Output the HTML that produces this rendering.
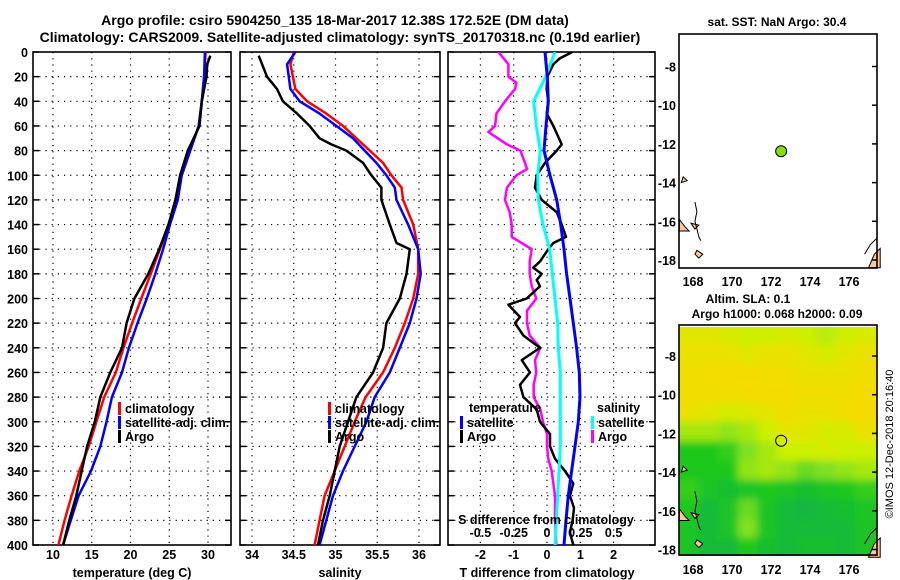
<!DOCTYPE html>
<html><head><meta charset="utf-8"><style>
html,body{margin:0;padding:0;background:#fff;}
svg{display:block;font-family:"Liberation Sans",sans-serif;font-weight:bold;}
</style></head><body>
<svg id="chart" width="900" height="580" viewBox="0 0 900 580" xmlns="http://www.w3.org/2000/svg">
<defs>
<clipPath id="c1"><rect x="33" y="52" width="198" height="493"/></clipPath>
<clipPath id="c2"><rect x="240" y="52" width="200" height="493"/></clipPath>
<clipPath id="c3"><rect x="448" y="52" width="207" height="493"/></clipPath>
<clipPath id="cm2"><rect x="679" y="327" width="198" height="229"/></clipPath>
<filter id="blur"><feGaussianBlur stdDeviation="4"/></filter>
</defs>
<text x="335" y="25" font-size="14" text-anchor="middle">Argo profile: csiro 5904250_135 18-Mar-2017 12.38S 172.52E (DM data)</text>
<text x="340" y="42" font-size="14" text-anchor="middle">Climatology: CARS2009. Satellite-adjusted climatology: synTS_20170318.nc (0.19d earlier)</text>
<g id="layer"></g>
<text x="777" y="26" font-size="12" text-anchor="middle">sat. SST: NaN Argo: 30.4</text>
<text x="748" y="303" font-size="12" text-anchor="middle">Altim. SLA: 0.1</text>
<text x="777" y="318" font-size="12" text-anchor="middle">Argo h1000: 0.068 h2000: 0.09</text>
<text transform="translate(893,444) rotate(-90)" font-size="11" font-weight="normal" text-anchor="middle">©IMOS 12-Dec-2018 20:16:40</text>
</svg>
<script>
// ---- data ----
const depths = [0,20,40,60,80,100,120,140,160,180,200,220,240,260,280,300,320,340,360,380,400];
const tempClim = [29.7,29.5,29.2,28.8,27.7,26.6,26.0,25.0,23.8,22.6,21.4,20.2,19.1,18.1,16.6,15.6,14.6,13.4,12.4,11.5,10.7];
const tempSat  = [29.6,29.5,29.2,28.8,27.7,26.6,26.1,25.1,24.2,23.2,22.1,20.9,19.8,18.9,17.6,16.9,16.1,14.9,13.3,12.3,11.3];
const argoTDepths = [3,10,20,40,60,80,100,120,140,160,180,200,220,240,260,280,300,320,340,360,380,400];
const argoTemp = [30.3,29.9,29.8,29.2,28.9,27.4,26.4,25.8,24.9,23.7,22.3,20.5,19.5,18.9,17.4,16.1,15.4,14.4,13.7,13.0,12.1,11.3];
const salDepths = [0,10,30,40,50,60,70,80,90,100,110,120,140,160,180,200,220,240,260,280,300,320,340,360,380,400];
const salClim = [34.50,34.46,34.52,34.66,34.89,35.09,35.25,35.41,35.57,35.67,35.79,35.81,35.93,35.99,35.99,35.93,35.83,35.71,35.57,35.36,35.23,35.11,34.99,34.87,34.81,34.75];
const salSat  = [34.52,34.42,34.46,34.57,34.81,35.01,35.21,35.35,35.49,35.61,35.71,35.73,35.87,35.99,36.02,35.97,35.89,35.77,35.65,35.47,35.37,35.23,35.09,34.97,34.89,34.81];
const argoSDepths = [3,20,30,40,50,60,70,75,80,90,100,110,120,140,155,160,180,200,220,240,260,280,300,320,340,360,380,400];
const argoSal = [34.08,34.18,34.30,34.37,34.54,34.69,34.81,34.95,35.13,35.33,35.43,35.55,35.55,35.65,35.73,35.89,35.85,35.77,35.61,35.57,35.45,35.25,35.15,35.05,34.99,34.93,34.85,34.79];
const diffTSat = [-0.06,0.01,0.04,-0.03,-0.09,0.09,0.29,0.41,0.51,0.59,0.69,0.79,0.89,0.97,0.99,0.94,0.84,0.74,0.64,0.57,0.51];
const diffSSat = [0.06,-0.01,-0.10,-0.08,-0.05,-0.07,-0.065,-0.03,0.02,0.04,0.06,0.08,0.085,0.10,0.10,0.10,0.10,0.09,0.08,0.07,0.06];
const argoDTDepths = [0,5,10,20,30,40,50,60,75,80,90,100,110,120,130,140,150,155,160,170,175,180,185,190,200,205,215,220,230,240,250,260,270,280,290,300,310,320,330,340,350,360,370,380,390,400];
const argoDT = [0.76,0.39,0.19,0.01,-0.01,0.04,-0.01,0.19,0.44,0.29,-0.06,-0.31,-0.36,-0.16,0.29,0.44,0.57,0.19,0.04,-0.21,-0.41,-0.16,-0.31,-0.21,-0.61,-1.16,-0.81,-0.96,-0.71,-0.21,-0.76,-0.51,-0.81,-0.71,-0.31,-0.21,0.09,0.09,0.24,0.54,0.79,0.69,0.81,0.77,0.69,0.79];
const argoDSDepths = [0,10,20,25,30,40,50,60,65,75,80,90,95,100,110,120,130,140,150,160,170,180,190,200,210,220,230,240,250,260,270,280,290,300,310,320,330,340,360,380,400];
const argoDS = [-0.365,-0.29,-0.29,-0.23,-0.24,-0.315,-0.38,-0.39,-0.44,-0.30,-0.20,-0.165,-0.15,-0.23,-0.30,-0.315,-0.28,-0.265,-0.265,-0.115,-0.13,-0.13,-0.115,-0.08,-0.15,-0.15,-0.13,-0.05,-0.09,-0.08,-0.10,-0.10,-0.05,-0.03,0.0,0.0,0.01,0.035,0.06,0.06,0.07];
const depthTicks = [0,20,40,60,80,100,120,140,160,180,200,220,240,260,280,300,320,340,360,380,400];
const tempTicks = [10,15,20,25,30];
const salTicks = [34,34.5,35,35.5,36];
const salTickLabels = ['34','34.5','35','35.5','36'];
const dTTicks = [-2,-1,0,1,2];
const dTTickLabels = ['-2','-1','0','1','2'];
const dSTicks = [-0.5,-0.25,0,0.25,0.5];
const dSTickLabels = ['-0.5','-0.25','0','0.25','0.5'];
const lonTicks = [168,170,172,174,176];
const latTicks = [-8,-10,-12,-14,-16,-18];
const argoLon = 172.52, argoLat = -12.38;
const slaLons = [167.8,168.8,169.8,170.8,171.8,172.8,173.8,174.8,175.8,176.8];
const slaLats = [-6.9,-7.9,-8.9,-9.9,-10.9,-11.9,-12.9,-13.9,-14.9,-15.9,-16.9,-17.9];
const slaGrid = [
[0.8,0.8,0.75,0.7,0.7,0.75,0.7,0.65,0.7,0.75],
[0.85,0.85,0.85,0.8,0.85,0.85,0.8,0.75,0.8,0.85],
[0.88,0.88,0.9,0.9,0.88,0.88,0.85,0.85,0.85,0.88],
[0.88,0.88,0.88,0.9,0.9,0.9,0.88,0.88,0.88,0.9],
[0.85,0.8,0.75,0.78,0.82,0.88,0.85,0.85,0.88,0.92],
[0.6,0.6,0.55,0.6,0.7,0.8,0.8,0.75,0.75,0.85],
[0.3,0.3,0.35,0.5,0.6,0.7,0.7,0.75,0.7,0.7],
[0.3,0.3,0.3,0.55,0.6,0.55,0.45,0.5,0.55,0.6],
[0.35,0.25,0.2,0.25,0.3,0.25,0.2,0.25,0.3,0.35],
[0.3,0.15,0.25,0.45,0.25,0.15,0.1,0.15,0.2,0.25],
[0.25,0.15,0.25,0.5,0.25,0.15,0.15,0.15,0.15,0.25],
[0.25,0.15,0.15,0.3,0.2,0.15,0.2,0.2,0.15,0.25]];

// ---- scales ----
const yD = d => 52 + d*1.2325;
const xT = t => 53 + (t-10)*7.75;
const xS = s => 252 + (s-34)*83.5;
const xDT = t => 547 + t*33.3;
const xDS = s => 547 + s*133.2;
const mx = lon => 693 + (lon-168)*19.5;
const my1 = lat => 66.5 + (-8-lat)*19.35;
const my2 = lat => 356 + (-8-lat)*19.35;

const NS='http://www.w3.org/2000/svg';
const layer=document.getElementById('layer');
function mk(tag,attrs,parent){const e=document.createElementNS(NS,tag);for(const k in attrs)e.setAttribute(k,attrs[k]);(parent||layer).appendChild(e);return e;}
function txt(x,y,s,size,anchor){const e=mk('text',{x:x,y:y,'font-size':size,'text-anchor':anchor});e.textContent=s;return e;}

function panel(x0,x1,vticks,xf,name){
  const g=mk('g',{});
  
  
  depthTicks.forEach(d=>{
    const y=yD(d);
    if(d>0&&d<400){const l=mk('line',{x1:x0,x2:x1,y1:y,y2:y,stroke:'#000','stroke-width':1.2,'stroke-dasharray':'1.2 5'},g);
      
      }
    mk('line',{x1:x0,x2:x0+6,y1:y,y2:y,stroke:'#000','stroke-width':1.5},g);
    mk('line',{x1:x1-6,x2:x1,y1:y,y2:y,stroke:'#000','stroke-width':1.5},g);
  });
  vticks.forEach(v=>{const x=xf(v);
    const l=mk('line',{x1:x,x2:x,y1:52,y2:545,stroke:'#000','stroke-width':1.2,'stroke-dasharray':'1.2 5'},g);
    
    
  });
  mk('rect',{x:x0,y:52,width:x1-x0,height:493,fill:'none',stroke:'#000','stroke-width':1.6},g);
  return g;
}
function line(xs,ds,xf,color,clip,name,w){
  const pts=xs.map((v,i)=>xf(v).toFixed(1)+','+yD(ds[i]).toFixed(1)).join(' ');
  const p=mk('polyline',{points:pts,fill:'none',stroke:color,'stroke-width':w||2.5,'clip-path':'url(#'+clip+')','stroke-linejoin':'round'});
  
  
}
function legend(x,y,color,label,name){
  const g=mk('g',{});
  
  
  mk('rect',{x:x,y:y-11,width:3,height:13,fill:color},g);
  const t=mk('text',{x:x+7,y:y,'font-size':12.5},g);t.textContent=label;
}

// Panel 1: temperature
panel(33,231,tempTicks,xT,'temperature-panel');
depthTicks.forEach(d=>{const t=txt(28,yD(d)+5,String(d),12.5,'end');});
tempTicks.forEach(v=>{const t=txt(xT(v),559,String(v),12.5,'middle');});
line(tempClim,depths,xT,'#ff0000','c1','temp-climatology-line');
line(tempSat,depths,xT,'#0000ff','c1','temp-satellite-line');
line(argoTemp,argoTDepths,xT,'#000','c1','temp-argo-line');
txt(132,577,'temperature (deg C)',12.5,'middle');
legend(118,413,'#ff0000','climatology','legend-climatology');
legend(118,427,'#0000ff','satellite-adj. clim.','legend-satellite');
legend(118,441,'#000','Argo','legend-argo');

// Panel 2: salinity
panel(240,440,salTicks,xS,'salinity-panel');
salTicks.forEach((v,i)=>{const t=txt(xS(v),559,salTickLabels[i],12.5,'middle');});
line(salClim,salDepths,xS,'#ff0000','c2','sal-climatology-line');
line(salSat,salDepths,xS,'#0000ff','c2','sal-satellite-line');
line(argoSal,argoSDepths,xS,'#000','c2','sal-argo-line');
txt(340,577,'salinity',12.5,'middle');
legend(328,413,'#ff0000','climatology','legend-climatology-2');
legend(328,427,'#0000ff','satellite-adj. clim.','legend-satellite-2');
legend(328,441,'#000','Argo','legend-argo-2');

// Panel 3: differences
panel(448,655,dTTicks,xDT,'difference-panel');
dTTicks.forEach((v,i)=>{const t=txt(xDT(v),559,dTTickLabels[i],12.5,'middle');});
line(argoDS,argoDSDepths,xDS,'#ff00ff','c3','sal-diff-argo-line');
line(argoDT,argoDTDepths,xDT,'#000','c3','temp-diff-argo-line');
line(diffSSat,depths,xDS,'#00ffff','c3','sal-diff-satellite-line',3);
line(diffTSat,depths,xDT,'#0000ff','c3','temp-diff-satellite-line',3);
dSTicks.forEach((v,i)=>{const t=txt(xDS(v),537,dSTickLabels[i],12.5,'middle');});
txt(546,524,'S difference from climatology',12.5,'middle');
txt(547,577,'T difference from climatology',12.5,'middle');
txt(469,412,'temperature',12.5,'start');
legend(460,427,'#0000ff','satellite','legend-t-satellite');
legend(460,441,'#000','Argo','legend-t-argo');
txt(597,412,'salinity',12.5,'start');
legend(591,427,'#00ffff','satellite','legend-s-satellite');
legend(591,441,'#ff00ff','Argo','legend-s-argo');

// Maps
function land(my,g){
  const shapes=[[[167.3,-15.9],[167.6,-16.3],[167.8,-16.5],[167.3,-16.5]],[[168.2,-17.5],[168.5,-17.7],[168.3,-17.9],[168.1,-17.7]],[[177.3,-17.7],[177.6,-17.4],[177.6,-18.4],[177.0,-18.4]],[[167.9,-16.1],[168.3,-16.2],[168.1,-16.4]],[[167.5,-13.7],[167.7,-13.9],[167.4,-14.0]]];
  shapes.forEach(s=>{const p=mk('polygon',{points:s.map(q=>mx(q[0])+','+my(q[1])).join(' '),fill:'#ffc59a',stroke:'#000','stroke-width':1},g);
    
    });
  mk('polyline',{points:[[168.1,-15],[168.2,-15.5],[168.1,-16],[168.3,-16.8],[168.4,-17]].map(q=>mx(q[0])+','+my(q[1])).join(' '),fill:'none',stroke:'#000','stroke-width':1},g);
  mk('polyline',{points:[[176.8,-17.7],[177.1,-17.2],[177.4,-16.9]].map(q=>mx(q[0])+','+my(q[1])).join(' '),fill:'none',stroke:'#000','stroke-width':1},g);
}
function mapAxes(top,bottom,my,g,labY){
  mk('rect',{x:679,y:top,width:198,height:bottom-top,fill:'none',stroke:'#000','stroke-width':1.6},g);
  latTicks.forEach(l=>{const y=my(l);mk('line',{x1:872,x2:877,y1:y,y2:y,stroke:'#000','stroke-width':1.5},g);
    const t=txt(676,y+5,String(l),12.5,'end');});
  lonTicks.forEach(l=>{const t=txt(mx(l),labY,String(l),12.5,'middle');});
}
const g1=mk('g',{});


land(my1,g1);
const d1=mk('circle',{cx:mx(argoLon),cy:my1(argoLat),r:5.5,fill:'#88dd00',stroke:'#000','stroke-width':1},g1);


mapAxes(34,268,my1,g1,286);

const g2=mk('g',{});


const stops=[[0,[12,173,80]],[0.3,[30,200,30]],[0.5,[128,224,32]],[0.7,[204,240,0]],[0.9,[245,220,0]],[1,[250,210,0]]];
function cmap(v){for(let i=1;i<stops.length;i++){if(v<=stops[i][0]){const a=stops[i-1],b=stops[i],f=(v-a[0])/(b[0]-a[0]);return 'rgb('+a[1].map((c,k)=>Math.round(c+(b[1][k]-c)*f)).join(',')+')';}}return 'rgb(250,210,0)';}
const hm=mk('g',{'clip-path':'url(#cm2)'},g2);
const hmb=mk('g',{filter:'url(#blur)'},hm);
slaGrid.forEach((row,r)=>row.forEach((v,c)=>{
  const x=mx(slaLons[c]-0.5), y=my2(slaLats[r]+0.5);
  const cell=mk('rect',{x:x-(c==0?20:0),y:y-(r==0?20:0),width:19.8+(c==0||c==9?20:0),height:19.6+(r==0||r==11?20:0),fill:cmap(v)},hmb);
  
  
}));
land(my2,g2);
const d2=mk('circle',{cx:mx(argoLon),cy:my2(argoLat),r:5.5,fill:'none',stroke:'#000','stroke-width':1},g2);


mapAxes(325,555,my2,g2,574);
</script>
</body></html>
